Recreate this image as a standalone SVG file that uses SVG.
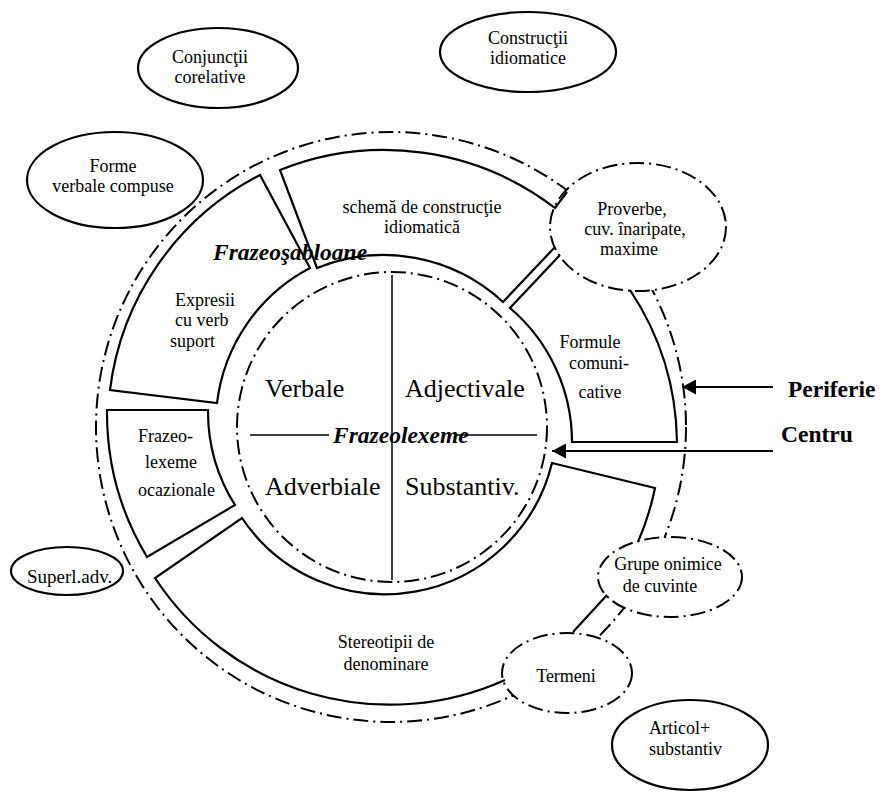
<svg xmlns="http://www.w3.org/2000/svg" width="880" height="792" viewBox="0 0 880 792">
<style>
text{font-family:"Liberation Serif","Times New Roman",serif;font-size:18px;fill:#000}
.c{text-anchor:middle}
.big{font-size:26px}
.bi{font-weight:bold;font-style:italic;font-size:23.5px}
.b{font-weight:bold;font-size:23.5px}
.seg{fill:none;stroke:#000;stroke-width:2.2;stroke-linejoin:miter}
.dd{fill:none;stroke:#000;stroke-width:2;stroke-dasharray:15 5 2 5}
.dde{fill:#fff;stroke:#000;stroke-width:2;stroke-dasharray:15 5 2 5}
.el{fill:none;stroke:#000;stroke-width:2.2}
.thin{fill:none;stroke:#000;stroke-width:1.5}
</style>
<defs>
<marker id="ah" markerWidth="14" markerHeight="15" refX="14" refY="7.5" orient="auto" markerUnits="userSpaceOnUse"><path d="M0,0 L14,7.5 L0,15 Z" fill="#000"/></marker>
</defs>
<rect width="880" height="792" fill="#fff"/>

<g id="periphery-circle">
<circle class="dd" cx="391" cy="427" r="295"/>
</g>

<g id="proverbe">
<ellipse class="dde" cx="638" cy="227" rx="88" ry="64"/>
<text class="c" x="632" y="215">Proverbe,</text>
<text class="c" x="635" y="235">cuv. înaripate,</text>
<text class="c" x="629" y="255">maxime</text>
</g>
<g id="grupe">
<ellipse class="dde" cx="670" cy="577" rx="72" ry="40"/>
<text class="c" x="668" y="570">Grupe onimice</text>
<text class="c" x="660" y="592">de cuvinte</text>
</g>
<g id="termeni">
<ellipse class="dde" cx="567" cy="673" rx="65" ry="40"/>
<text class="c" x="566" y="682">Termeni</text>
</g>

<g id="centre">
<circle class="dd" cx="392" cy="427" r="155"/>
<line class="thin" x1="392" y1="275" x2="392" y2="580"/>
<line class="thin" x1="250" y1="435" x2="329" y2="435"/>
<line class="thin" x1="455" y1="435" x2="537" y2="435"/>
<text class="big" x="265" y="397">Verbale</text>
<text class="big" x="405" y="397">Adjectivale</text>
<text class="big" x="265" y="495">Adverbiale</text>
<text class="big" x="405" y="495">Substantiv.</text>
<text class="bi" x="333" y="443">Frazeolexeme</text>
</g>

<g id="expresii">
<text x="213" y="260" class="bi">Frazeoşabloane</text>
<path class="seg" d="M260,175 L310,268 A176,176 0 0 0 217,403 L110,390 A281,281 0 0 1 260,175 Z"/>
<text x="175" y="306">Expresii</text>
<text x="175" y="326">cu verb</text>
<text x="170" y="347">suport</text>
</g>

<g id="schema">
<path class="seg" d="M555,247 L503,302 A176,176 0 0 0 317,268 L280,170 A281,281 0 0 1 555,208 L567,192"/>
<text class="c" x="422" y="213">schemă de construcţie</text>
<text class="c" x="422" y="233">idiomatică</text>
</g>

<g id="formule">
<path class="seg" d="M560,255 L510,308 A176,176 0 0 1 572,442 L677,442 A281,281 0 0 0 630,290"/>
<text class="c" x="590" y="348">Formule</text>
<text class="c" x="599" y="369">comuni-</text>
<text class="c" x="600" y="398">cative</text>
</g>

<g id="frazeolexeme-ocazionale">
<path class="seg" d="M107,410 L208,410 A176,176 0 0 0 235,505 L147,557 A281,281 0 0 1 107,410 Z"/>
<text x="138" y="442">Frazeo-</text>
<text x="145" y="468">lexeme</text>
<text x="138" y="496">ocazionale</text>
</g>

<g id="stereotipii">
<path class="seg" d="M638,542 A272,272 0 0 0 655,488 L552,463 A172,172 0 0 1 242,518 L155,578 A281,281 0 0 0 505,680"/>
<path class="seg" d="M607,595 L573,632"/>
<text class="c" x="386" y="648">Stereotipii de</text>
<text class="c" x="386" y="670">denominare</text>
</g>

<g id="conjunctii">
<ellipse class="el" cx="218" cy="68" rx="80" ry="40"/>
<text class="c" x="210" y="63">Conjuncţii</text>
<text class="c" x="210" y="83">corelative</text>
</g>
<g id="constructii">
<ellipse class="el" cx="528" cy="52" rx="88" ry="40"/>
<text class="c" x="528" y="44">Construcţii</text>
<text class="c" x="528" y="64">idiomatice</text>
</g>
<g id="forme">
<ellipse class="el" cx="115" cy="180" rx="88" ry="48"/>
<text class="c" x="113" y="172">Forme</text>
<text class="c" x="113" y="192">verbale compuse</text>
</g>
<g id="superl">
<ellipse class="el" cx="67" cy="571" rx="56" ry="24"/>
<text x="27" y="583" style="font-size:19px">Superl.adv.</text>
</g>
<g id="articol">
<ellipse class="el" cx="690" cy="745" rx="78" ry="45"/>
<text x="649" y="734">Articol+</text>
<text x="649" y="755">substantiv</text>
</g>

<g id="connectors">
<line x1="773" y1="387" x2="682" y2="387" stroke="#000" stroke-width="2" marker-end="url(#ah)"/>
<line x1="773" y1="451" x2="552" y2="451" stroke="#000" stroke-width="2" marker-end="url(#ah)"/>
</g>
<g id="labels">
<text class="b" x="788" y="397">Periferie</text>
<text class="b" x="781" y="442">Centru</text>
</g>
</svg>
